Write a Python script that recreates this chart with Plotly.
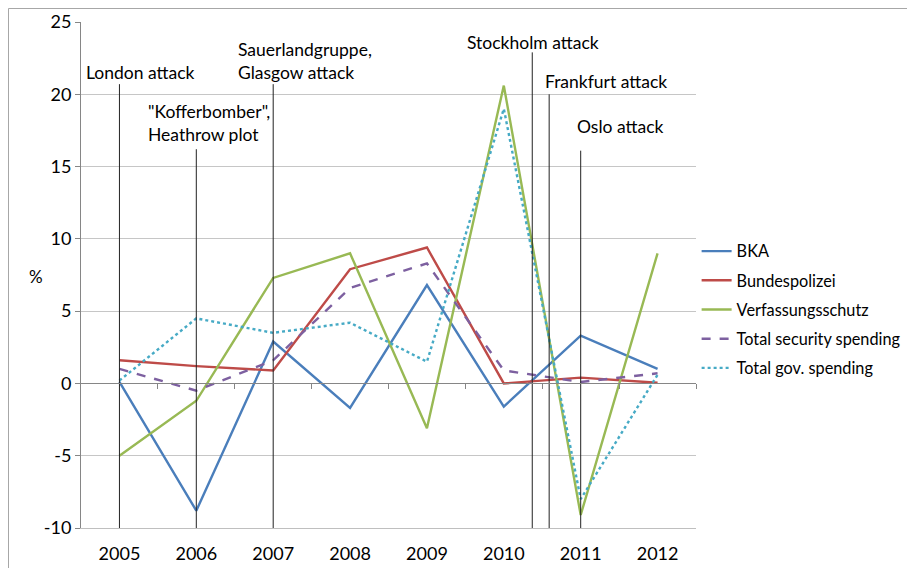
import plotly.graph_objects as go

years = ["2005", "2006", "2007", "2008", "2009", "2010", "2011", "2012"]
bka = [0.1, -8.8, 2.9, -1.7, 6.8, -1.6, 3.3, 1.0]
bundespolizei = [1.6, 1.2, 0.9, 7.9, 9.4, 0.0, 0.4, 0.05]
verfassungsschutz = [-5.0, -1.2, 7.3, 9.0, -3.1, 20.6, -9.1, 9.0]
total_security = [1.0, -0.5, 1.6, 6.6, 8.3, 0.9, 0.1, 0.7]
total_gov = [0.2, 4.5, 3.5, 4.2, 1.5, 19.0, -8.0, 0.6]

y_tickvals = [-10, -5, 0, 5, 10, 15, 20, 25]
y_ticktext = ["-10", "-5", "0", "5", "10", "15", "20", "25"]

series_names = ["BKA", "Bundespolizei", "Verfassungsschutz",
                "Total security spending", "Total gov. spending"]
series_colors = ["#4A7EBB", "#BE4B48", "#98B954", "#7D60A0", "#46AAC5"]
series_dash = ["solid", "solid", "solid", "dash", "dot"]

# events: position on category axis (index units), top of marker line (%)
event_labels = ["London attack", "\"Kofferbomber\",<br>Heathrow plot",
                "Sauerlandgruppe,<br>Glasgow attack", "Stockholm attack",
                "Frankfurt attack", "Oslo attack"]
event_x = [0.0, 1.0, 2.0, 5.37, 5.59, 6.0]
event_top = [20.7, 16.2, 20.7, 22.9, 20.0, 16.1]
label_x = [0.28, 0.35, 1.51, 4.49, 5.51, 5.93]
label_y = [21.5, 18.0, 22.3, 23.6, 20.9, 17.75]
label_anchor = ["center", "left", "left", "left", "left", "left"]

y_min, y_max = -10, 25
FONT = "Lato"

xs = list(range(len(years)))
fig = go.Figure()

values = [bka, bundespolizei, verfassungsschutz, total_security, total_gov]
for name, vals, col, dash in zip(series_names, values, series_colors, series_dash):
    fig.add_trace(go.Scatter(
        x=xs, y=vals, mode="lines", name=name, legendgroup=name,
        line=dict(color=col, width=2.4, dash=dash),
    ))

# event vertical lines
for ex, et in zip(event_x, event_top):
    fig.add_trace(go.Scatter(
        x=[ex, ex], y=[y_min, et], mode="lines", showlegend=False,
        line=dict(color="#222222", width=1), hoverinfo="skip",
    ))

# invisible trace for the zero-crossing category axis
fig.add_trace(go.Scatter(x=[0], y=[0], xaxis="x2", mode="markers",
                         marker=dict(opacity=0), showlegend=False,
                         hoverinfo="skip"))

for txt, lx, ly, anc in zip(event_labels, label_x, label_y, label_anchor):
    fig.add_annotation(x=lx, y=ly, xref="x", yref="y", text=txt,
                       showarrow=False, xanchor=anc, yanchor="middle",
                       align="left", font=dict(family=FONT, size=17.5, color="#000000"))

fig.add_annotation(x=-0.088, y=0.498, xref="paper", yref="paper", text="%",
                   showarrow=False, font=dict(family=FONT, size=17, color="#000000"))

# outer chart border
fig.add_shape(type="rect", xref="paper", yref="paper",
              x0=-0.1179, x1=1.4, y0=-0.12, y1=1.0267,
              line=dict(color="#a6a6a6", width=1))

boundaries = [i + 0.5 for i in range(len(years))]

fig.update_layout(
    width=907, height=560,
    margin=dict(l=73, r=219, t=14, b=40, autoexpand=False),
    paper_bgcolor="white", plot_bgcolor="white",
    font=dict(family=FONT, size=17, color="#000000"),
    xaxis=dict(range=[-0.5, len(years) - 0.5], tickvals=xs, ticktext=years,
               showgrid=False, zeroline=False, showline=True,
               linecolor="#bfbfbf", linewidth=1,
               ticks="outside", ticklen=9, tickcolor="rgba(0,0,0,0)",
               tickfont=dict(family=FONT, size=18)),
    xaxis2=dict(range=[-0.5, len(years) - 0.5], overlaying="x", anchor="free",
                position=(0 - y_min) / (y_max - y_min), side="bottom",
                tickvals=boundaries, showticklabels=False,
                ticks="outside", ticklen=5, tickcolor="#868686",
                showline=True, linecolor="#868686", linewidth=1,
                showgrid=False, zeroline=False),
    yaxis=dict(range=[y_min, y_max], tickvals=y_tickvals, ticktext=y_ticktext,
               showgrid=True, gridcolor="#c6c6c6", gridwidth=1,
               zeroline=False, showline=True, linecolor="#868686",
               ticks="outside", ticklen=5, tickcolor="#868686",
               tickfont=dict(family=FONT, size=18)),
    legend=dict(x=1.001, y=0.581, xanchor="left", yanchor="top",
                traceorder="grouped", tracegroupgap=5,
                font=dict(family=FONT, size=16.3), bgcolor="rgba(0,0,0,0)"),
    showlegend=True,
)

fig.write_html("out.html")
